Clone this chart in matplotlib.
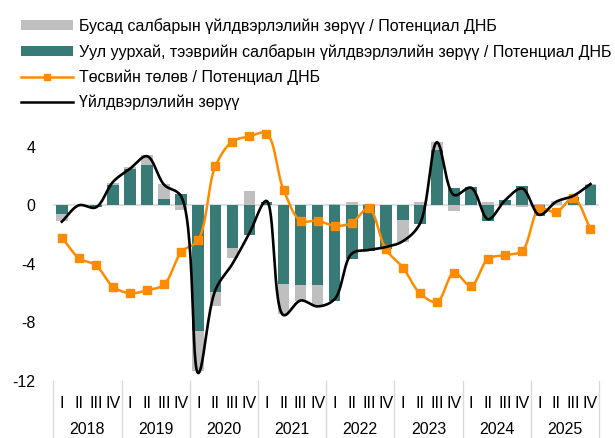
import numpy as np
import matplotlib
matplotlib.use("Agg")
import matplotlib.pyplot as plt
from matplotlib.lines import Line2D
from matplotlib.patches import Patch
import matplotlib.transforms as mtransforms

plt.rcParams['font.family'] = ['Liberation Sans', 'DejaVu Sans']

years = ["2018", "2019", "2020", "2021", "2022", "2023", "2024", "2025"]
quarter_labels = ["I", "II", "III", "IV"]

mining_gap = [-0.6, 0.05, -0.1, 1.4,
              2.5, 2.75, 0.45, 0.8,
              -8.6, -5.9, -2.9, -2.0,
              0.2, -5.4, -5.45, -5.45,
              -6.5, -3.65, -3.1, -2.95,
              -1.0, -1.3, 3.8, 1.15,
              1.25, -1.1, 0.35, 1.3,
              -0.7, 0.0, 0.55, 1.4]
other_gap = [-0.5, 0.0, 0.0, 0.1,
             0.1, 0.7, 1.0, -0.35,
             -2.7, -0.95, -0.7, 0.95,
             0.0, -2.05, -1.1, -1.35,
             0.1, 0.2, 0.1, 0.0,
             -1.5, 0.2, 0.5, -0.4,
             0.0, 0.2, 0.0, -0.15,
             0.1, 0.3, 0.05, 0.05]
fiscal = [-2.2, -3.6, -4.1, -5.55,
          -6.0, -5.8, -5.4, -3.2,
          -2.35, 2.65, 4.35, 4.7,
          4.9, 1.05, -1.05, -1.05,
          -1.4, -1.2, -0.2, -3.0,
          -4.25, -6.0, -6.6, -4.6,
          -5.5, -3.65, -3.4, -3.1,
          -0.25, -0.45, 0.5, -1.6]
output_gap = [-1.12, 0.0, -0.14, 1.6,
              2.5, 3.35, 1.4, 0.6,
              -11.45, -5.8, -4.0, -1.9,
              0.3, -7.5, -6.5, -6.9,
              -6.4, -3.3, -3.05, -2.85,
              -2.45, -1.25, 4.3, 0.7,
              1.2, -0.95, 0.35, 1.15,
              -0.65, 0.25, 0.65, 1.45]

labels = ["Бусад салбарын үйлдвэрлэлийн зөрүү / Потенциал ДНБ",
          "Уул уурхай, тээврийн салбарын үйлдвэрлэлийн зөрүү / Потенциал ДНБ",
          "Төсвийн төлөв / Потенциал ДНБ",
          "Үйлдвэрлэлийн зөрүү"]

TEAL = "#377a76"
GRAY = "#bfbfbf"
ORANGE = "#ff8c00"

fig = plt.figure(figsize=(6.15, 4.38), dpi=100)
ax = fig.add_axes([53.3 / 615, (438 - 381.1) / 438, (599 - 53.3) / 615, 293 / 438])

n = len(mining_gap)
ax.set_xlim(0, n)
ax.set_ylim(-12, 8)


def smooth_display(xd, yd, nseg=30, alpha=0.5):
    """Centripetal Catmull-Rom curve computed in display (pixel) space."""
    pts = ax.transData.transform(np.column_stack([xd, yd]))
    first = 2 * pts[0] - pts[1]
    last = 2 * pts[-1] - pts[-2]
    P = np.vstack([first, pts, last])
    out = []
    for i in range(1, len(P) - 2):
        p0, p1, p2, p3 = P[i - 1], P[i], P[i + 1], P[i + 2]
        d01 = max(np.linalg.norm(p1 - p0) ** alpha, 1e-6)
        d12 = max(np.linalg.norm(p2 - p1) ** alpha, 1e-6)
        d23 = max(np.linalg.norm(p3 - p2) ** alpha, 1e-6)
        m1 = (p1 - p0) / d01 - (p2 - p0) / (d01 + d12) + (p2 - p1) / d12
        m2 = (p2 - p1) / d12 - (p3 - p1) / (d12 + d23) + (p3 - p2) / d23
        m1 *= d12
        m2 *= d12
        c1 = p1 + m1 / 3.0
        c2 = p2 - m2 / 3.0
        t = np.linspace(0, 1, nseg, endpoint=(i == len(P) - 3))[:, None]
        seg = ((1 - t) ** 3) * p1 + 3 * ((1 - t) ** 2) * t * c1 + 3 * (1 - t) * t ** 2 * c2 + t ** 3 * p2
        out.append(seg)
    out = np.vstack(out)
    back = ax.transData.inverted().transform(out)
    return back[:, 0], back[:, 1]


x = np.arange(n) + 0.5
mg = np.array(mining_gap)
og = np.array(other_gap)

ax.axhline(0, color="#d9d9d9", lw=1.2, zorder=1)

bw = 0.68
ax.bar(x, mg, width=bw, color=TEAL, zorder=2, linewidth=0)
bottom_other = np.where(np.sign(og) == np.sign(mg), mg, 0.0)
ax.bar(x, og, width=bw, bottom=bottom_other, color=GRAY, zorder=2, linewidth=0)

sx, sy = smooth_display(x, fiscal)
ax.plot(sx, sy, color=ORANGE, lw=1.8, zorder=3)
ax.plot(x, fiscal, ls="none", marker="s", ms=5.5, color=ORANGE, zorder=4)

bx, by = smooth_display(x, output_gap)
ax.plot(bx, by, color="black", lw=1.9, zorder=5)

ax.set_yticks([-12, -8, -4, 0, 4])
ax.set_yticklabels(["-12", "-8", "-4", "0", "4"])
ax.tick_params(axis="y", length=0, pad=13, labelsize=11.5)
ax.set_xticks(x)
ax.set_xticklabels(quarter_labels * len(years))
ax.tick_params(axis="x", length=0, pad=11, labelsize=11.5)
for s in ax.spines.values():
    s.set_visible(False)

trans = mtransforms.blended_transform_factory(ax.transData, ax.transAxes)
px = 1.0 / 293
for k in range(len(years) + 1):
    ax.add_line(Line2D([4 * k, 4 * k], [0, -60 * px], transform=trans, color="#d9d9d9",
                       lw=1.0, clip_on=False))
for k, yr in enumerate(years):
    ax.text(4 * k + 2, -48 * px, yr, transform=trans, ha="center", va="center", fontsize=11.5)

handles = [Patch(facecolor=GRAY, edgecolor="none"),
           Patch(facecolor=TEAL, edgecolor="none"),
           Line2D([], [], color=ORANGE, lw=1.8, marker="s", ms=5, markevery=[1]),
           Line2D([], [], color="black", lw=1.8)]
leg = fig.legend(handles, labels, loc="upper left", bbox_to_anchor=(21 / 615, 1 - 18 / 438),
                 frameon=False, borderpad=0, borderaxespad=0, fontsize=11.5,
                 handlelength=3.25, handletextpad=0.38, labelspacing=0.62,
                 handleheight=0.6)

fig.savefig("out.png", dpi=100)
